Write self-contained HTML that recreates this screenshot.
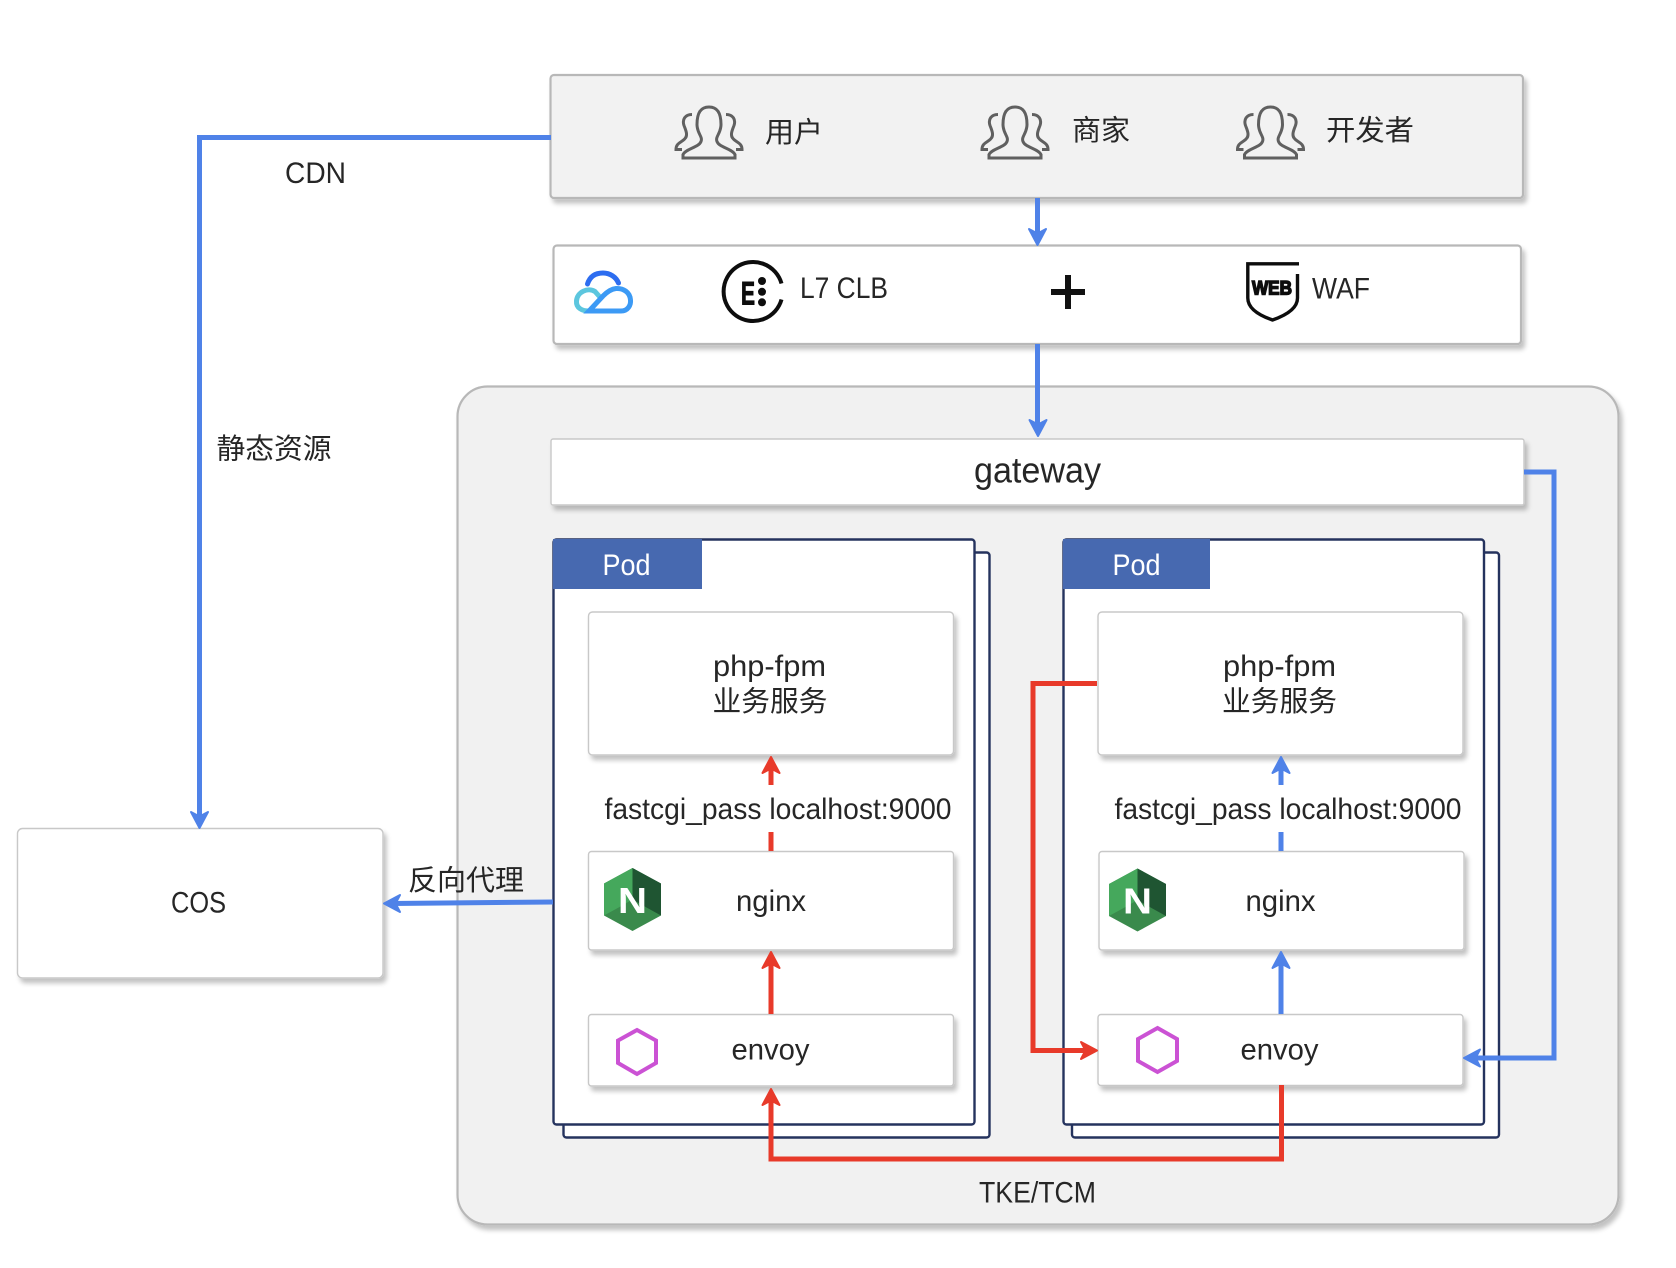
<!DOCTYPE html>
<html lang="zh"><head><meta charset="utf-8"><title>Architecture</title>
<style>
html,body{margin:0;padding:0;background:#fff}
svg{display:block}
text{font-family:"Liberation Sans","Noto Sans CJK SC",sans-serif;fill:#262626;font-size:30px}
.cjk{font-size:28.5px}
.card{fill:#fff;stroke:#c8c8c8;stroke-width:1.4;filter:url(#sh)}
.big{fill:#fff;stroke:#b8b8b8;stroke-width:2.2;filter:url(#sh)}
.pod{fill:#fff;stroke:#25335e;stroke-width:2.4}
.bl{fill:none;stroke:#4f82e8;stroke-width:5}
.rd{fill:none;stroke:#e83a2a;stroke-width:5}
.u{fill:none;stroke:#606060;stroke-width:3}
</style></head><body>
<svg width="1676" height="1268" viewBox="0 0 1676 1268" xmlns="http://www.w3.org/2000/svg">
<defs>
<filter id="sh" x="-5%" y="-10%" width="110%" height="125%"><feDropShadow dx="3" dy="4.5" stdDeviation="2.4" flood-color="#000" flood-opacity=".24"/></filter>
<path id="ah" d="M0 0 L8.500 16 L0 11.500 L-8.500 16Z" stroke-linejoin="round" stroke-width="2"/>
<g id="user">
<path class="u" d="M-26 52.500H26V49C23 43 10 42 8 36C6 31 12 28 12 19C12 7 8 1.500 0 1.500C-8 1.500-12 7-12 19C-12 28-6 31-8 36C-10 42-23 43-26 49Z"/>
<path class="u" d="M17 9C24 9 27 14 25 20C23 25 21 30 24 33C27 37 33 37 33 44H27"/>
<path class="u" d="M-17 9C-24 9-27 14-25 20C-23 25-21 30-24 33C-27 37-33 37-33 44H-27"/>
</g>
<g id="ngx">
<polygon points="0,-31.500 28.500,-16 28.500,16 0,31.500 -28.500,16 -28.500,-16" fill="#3a8a4c"/>
<polygon points="0,-31.500 -28.500,-16 -28.500,16 -12,7 0,0" fill="#45a85c"/>
<polygon points="0,-31.500 28.500,-16 28.500,16 14,8 0,0" fill="#1f5532"/>
<text x="-14.500" y="13.500" style="font-size:36px;font-weight:bold;fill:#fff" textLength="29" lengthAdjust="spacingAndGlyphs">N</text>
</g>
</defs>

<!-- outer container -->
<rect class="big" x="457.500" y="386.500" width="1161" height="838" rx="30" style="fill:#f1f1f1"/>

<!-- top boxes -->
<rect class="big" x="550.500" y="75" width="972.500" height="123" rx="3.500" style="fill:#f2f2f2"/>
<rect class="big" x="553.500" y="245.500" width="967.500" height="98.500" rx="3.500"/>
<use href="#user" x="709" y="105.500"/>
<use href="#user" x="1015" y="105.500"/>
<use href="#user" x="1270.500" y="105.500"/>
<text class="cjk" x="765" y="142" textLength="58" lengthAdjust="spacingAndGlyphs">用户</text>
<text class="cjk" x="1072" y="140" textLength="58" lengthAdjust="spacingAndGlyphs">商家</text>
<text class="cjk" x="1326" y="140" textLength="88" lengthAdjust="spacingAndGlyphs">开发者</text>

<!-- cloud logo -->
<g fill="none" stroke-width="5" stroke-linecap="round">
<path d="M587.500 284C590 276 596 273 603 273C610 273 616 277 618.500 283" stroke="#2d6df0"/>
<path d="M599 296L595 291.500C588 287 577 292 576.500 301C576 308 582 311 589 311" stroke="#5cc6de"/>
<path d="M589 311H621C628 311 631 305 630.500 300C630 292 623 288 616 288.500C611 289 607 292 603 296Z" stroke="#3c9af5"/>
</g>

<!-- ELB icon -->
<path d="M781.500 283.500A29.500 29.500 0 1 0 781.500 299.500" fill="none" stroke="#0d0d0d" stroke-width="4"/>
<text x="741" y="304.500" style="font-size:32px;font-weight:bold;fill:#0d0d0d;stroke:#0d0d0d;stroke-width:1" textLength="14" lengthAdjust="spacingAndGlyphs">E</text>
<circle cx="762" cy="281" r="4" fill="#0d0d0d"/><circle cx="762" cy="291.800" r="4" fill="#0d0d0d"/><circle cx="762" cy="302.300" r="4" fill="#0d0d0d"/>
<text x="800" y="298" textLength="88" lengthAdjust="spacingAndGlyphs">L7 CLB</text>

<!-- plus -->
<rect x="1051" y="289" width="34" height="6" fill="#111"/>
<rect x="1065" y="275" width="6" height="34" fill="#111"/>

<!-- shield -->
<path d="M1299 263.800H1247.800V298C1247.800 308 1258 315 1272.500 320C1287 315 1297.500 308 1297.500 298V274" fill="none" stroke="#0d0d0d" stroke-width="3.400"/>
<text x="1252" y="294.500" style="font-size:19px;font-weight:bold;fill:#0d0d0d;stroke:#0d0d0d;stroke-width:1.500" textLength="40" lengthAdjust="spacingAndGlyphs">WEB</text>
<text x="1312" y="298.500" textLength="58" lengthAdjust="spacingAndGlyphs">WAF</text>

<!-- gateway -->
<rect class="card" x="551" y="439" width="973" height="66" rx="2"/>
<text x="974" y="482.500" style="font-size:36px" textLength="127" lengthAdjust="spacingAndGlyphs">gateway</text>

<!-- COS -->
<rect class="card" x="17.500" y="828.500" width="365.500" height="149.500" rx="5"/>
<text x="171" y="912.500" textLength="55" lengthAdjust="spacingAndGlyphs">COS</text>

<!-- left pod -->
<rect class="pod" x="563.500" y="552.500" width="426" height="585" rx="3"/>
<rect class="pod" x="553.500" y="539.500" width="421" height="585" rx="3"/>
<rect x="553" y="539" width="149" height="50" fill="#4769b0"/>
<text x="602.500" y="575" style="fill:#fff" textLength="48" lengthAdjust="spacingAndGlyphs">Pod</text>
<rect class="card" x="588.500" y="612" width="365" height="143" rx="4"/>
<rect class="card" x="588.500" y="851.500" width="365" height="98.500" rx="3"/>
<rect class="card" x="588.500" y="1014.500" width="365" height="71.500" rx="3"/>
<text x="713" y="676" textLength="113" lengthAdjust="spacingAndGlyphs">php-fpm</text>
<text class="cjk" x="712.500" y="711" textLength="115" lengthAdjust="spacingAndGlyphs">业务服务</text>
<text x="604.500" y="819" textLength="347" lengthAdjust="spacingAndGlyphs">fastcgi_pass localhost:9000</text>
<text x="736" y="911" textLength="70" lengthAdjust="spacingAndGlyphs">nginx</text>
<text x="731.500" y="1059.500" textLength="78" lengthAdjust="spacingAndGlyphs">envoy</text>
<use href="#ngx" x="632.500" y="899.500"/>
<polygon points="637,1030 656,1040.500 656,1063 637,1074 618,1063 618,1040.500" fill="none" stroke="#cb52d4" stroke-width="4"/>

<!-- right pod -->
<rect class="pod" x="1072" y="552.500" width="427" height="585" rx="3"/>
<rect class="pod" x="1063.500" y="539.500" width="420.500" height="585" rx="3"/>
<rect x="1063" y="539" width="147" height="50" fill="#4769b0"/>
<text x="1112.500" y="575" style="fill:#fff" textLength="48" lengthAdjust="spacingAndGlyphs">Pod</text>
<rect class="card" x="1098" y="612" width="365" height="143" rx="4"/>
<rect class="card" x="1099" y="851.500" width="365" height="98.500" rx="3"/>
<rect class="card" x="1098" y="1014.500" width="365" height="71" rx="3"/>
<text x="1223" y="676" textLength="113" lengthAdjust="spacingAndGlyphs">php-fpm</text>
<text class="cjk" x="1222" y="711" textLength="115" lengthAdjust="spacingAndGlyphs">业务服务</text>
<text x="1114.500" y="819" textLength="347" lengthAdjust="spacingAndGlyphs">fastcgi_pass localhost:9000</text>
<text x="1245.500" y="911" textLength="70" lengthAdjust="spacingAndGlyphs">nginx</text>
<text x="1240.500" y="1059.500" textLength="78" lengthAdjust="spacingAndGlyphs">envoy</text>
<use href="#ngx" x="1137.500" y="900"/>
<polygon points="1157.500,1028 1177,1039 1177,1061 1157.500,1072 1138,1061 1138,1039" fill="none" stroke="#cb52d4" stroke-width="4"/>

<!-- blue connectors -->
<path class="bl" d="M551 137.500H199.500V818"/>
<use href="#ah" transform="translate(199.500 828) rotate(180)" fill="#4f82e8" stroke="#4f82e8"/>
<path class="bl" d="M1037.500 198V236"/>
<use href="#ah" transform="translate(1037.500 245) rotate(180)" fill="#4f82e8" stroke="#4f82e8"/>
<path class="bl" d="M1037.500 344V426"/>
<use href="#ah" transform="translate(1038 436) rotate(180)" fill="#4f82e8" stroke="#4f82e8"/>
<path class="bl" d="M553 902L392 903.500"/>
<use href="#ah" transform="translate(384 903.500) rotate(-90)" fill="#4f82e8" stroke="#4f82e8"/>
<path class="bl" d="M1524 472H1554V1058H1472"/>
<use href="#ah" transform="translate(1464 1058) rotate(-90)" fill="#4f82e8" stroke="#4f82e8"/>
<path class="bl" d="M1281 765V785M1281 832V851"/>
<use href="#ah" transform="translate(1281 757)" fill="#4f82e8" stroke="#4f82e8"/>
<path class="bl" d="M1281 960V1014"/>
<use href="#ah" transform="translate(1281 952)" fill="#4f82e8" stroke="#4f82e8"/>

<!-- red connectors -->
<path class="rd" d="M1097 683.500H1033V1050.500H1088"/>
<use href="#ah" transform="translate(1097 1050.500) rotate(90)" fill="#e83a2a" stroke="#e83a2a"/>
<path class="rd" d="M1281.500 1085V1159H771V1098"/>
<use href="#ah" transform="translate(771 1089)" fill="#e83a2a" stroke="#e83a2a"/>
<path class="rd" d="M771 765V785M771 832V851"/>
<use href="#ah" transform="translate(771 757)" fill="#e83a2a" stroke="#e83a2a"/>
<path class="rd" d="M771 960V1014"/>
<use href="#ah" transform="translate(771 952)" fill="#e83a2a" stroke="#e83a2a"/>

<!-- labels -->
<text x="285" y="183" textLength="61" lengthAdjust="spacingAndGlyphs">CDN</text>
<text class="cjk" x="216.500" y="458.500" textLength="115" lengthAdjust="spacingAndGlyphs">静态资源</text>
<text class="cjk" x="408" y="890" textLength="116" lengthAdjust="spacingAndGlyphs">反向代理</text>
<text x="979" y="1202.500" textLength="117" lengthAdjust="spacingAndGlyphs">TKE/TCM</text>
</svg>
</body></html>
